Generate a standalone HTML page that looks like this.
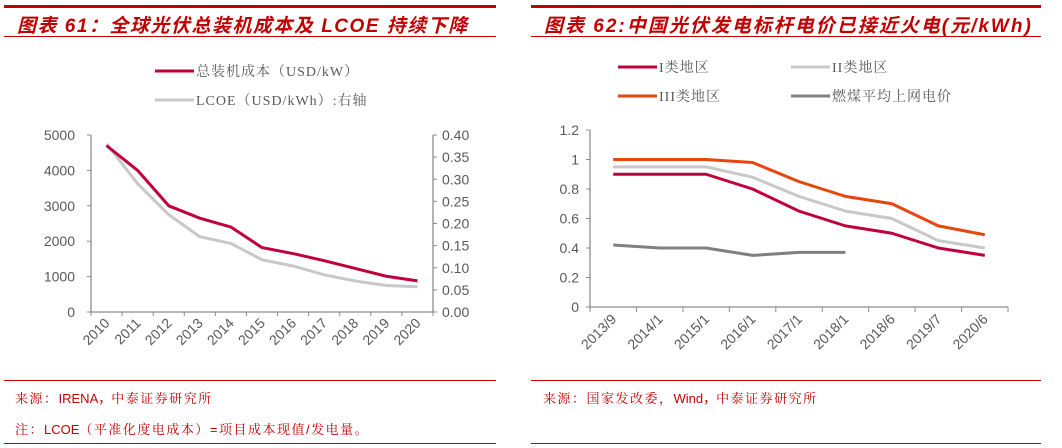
<!DOCTYPE html>
<html><head><meta charset="utf-8">
<style>
body{margin:0;width:1062px;height:448px;background:#fff;position:relative;overflow:hidden;font-family:"Liberation Sans","Noto Sans CJK SC",sans-serif}
.abs{position:absolute}
.title{font-weight:bold;font-style:italic;color:#c00000;font-size:19px;white-space:nowrap;letter-spacing:1.5px}
.src{font-family:"Liberation Sans","Noto Serif CJK SC",serif;color:#c00000;font-size:13px;white-space:nowrap;letter-spacing:1.5px}
</style></head><body>
<div class="abs" style="left:4px;top:5px;width:492px;height:3px;background:#c00000"></div>
<div class="abs title" style="left:17px;top:11px">图表 61：全球光伏总装机成本及 LCOE 持续下降</div>
<div class="abs" style="left:4px;top:36px;width:492px;height:1px;background:#c00000"></div>
<div class="abs" style="left:531px;top:5px;width:510px;height:3px;background:#c00000"></div>
<div class="abs title" style="left:544px;top:11px;letter-spacing:2px">图表 62:中国光伏发电标杆电价已接近火电(元/kWh)</div>
<div class="abs" style="left:531px;top:36px;width:510px;height:1px;background:#c00000"></div>

<div class="abs" style="left:4px;top:380px;width:492px;height:1px;background:#c00000"></div>
<div class="abs src" style="left:15px;top:388px">来源：<span style="font-family:'Liberation Sans';letter-spacing:0">IRENA，</span>中泰证券研究所</div>
<div class="abs src" style="left:15px;top:419px">注：<span style="font-family:'Liberation Sans';letter-spacing:0">LCOE</span>（平准化度电成本）=项目成本现值/发电量。</div>
<div class="abs" style="left:4px;top:443px;width:492px;height:1px;background:#c00000"></div>
<div class="abs" style="left:531px;top:380px;width:510px;height:1px;background:#c00000"></div>
<div class="abs src" style="left:543px;top:388px">来源：国家发改委，<span style="font-family:'Liberation Sans';letter-spacing:0">Wind，</span>中泰证券研究所</div>
<div class="abs" style="left:531px;top:443px;width:510px;height:1px;background:#c00000"></div>

<svg id="c" class="abs" style="left:0;top:0" width="1062" height="448"></svg>
<script>
const years=["2010","2011","2012","2013","2014","2015","2016","2017","2018","2019","2020"];
const costVals=[4700,4000,3000,2650,2400,1820,1650,1450,1230,1010,880];
const lcoeVals=[0.38,0.29,0.22,0.17,0.155,0.118,0.104,0.084,0.07,0.06,0.057];
const leftTicks=[0,1000,2000,3000,4000,5000];
const rightTicks=["0.00","0.05","0.10","0.15","0.20","0.25","0.30","0.35","0.40"];
const dates=["2013/9","2014/1","2015/1","2016/1","2017/1","2018/1","2018/6","2019/7","2020/6"];
const reg1=[0.9,0.9,0.9,0.8,0.65,0.55,0.5,0.4,0.35];
const reg2=[0.95,0.95,0.95,0.88,0.75,0.65,0.6,0.45,0.4];
const reg3=[1,1,1,0.98,0.85,0.75,0.7,0.55,0.49];
const coal=[0.42,0.40,0.40,0.35,0.37,0.37];
const priceTicks=["0","0.2","0.4","0.6","0.8","1","1.2"];

const svg=document.getElementById('c');
const NS='http://www.w3.org/2000/svg';
function mk(tag,attrs,parent){const e=document.createElementNS(NS,tag);for(const k in attrs)e.setAttribute(k,attrs[k]);(parent||svg).appendChild(e);return e;}
const axC='#8c8c8c',txC='#595959';

const L={x0:91,x1:433,y0:312,y1:135};
const lx=i=>L.x0+(i+0.5)*(L.x1-L.x0)/years.length;
const ly=v=>L.y0-(v/5000)*(L.y0-L.y1);
const ry=v=>L.y0-(v/0.4)*(L.y0-L.y1);
let e;
e=mk('line',{x1:L.x0,y1:L.y1,x2:L.x0,y2:L.y0,stroke:axC,'stroke-width':1.3});

e=mk('line',{x1:L.x1,y1:L.y1,x2:L.x1,y2:L.y0,stroke:axC,'stroke-width':1.3});

e=mk('line',{x1:L.x0,y1:L.y0,x2:L.x1,y2:L.y0,stroke:axC,'stroke-width':1.3});

leftTicks.forEach(v=>{const y=ly(v);mk('line',{x1:L.x0-4,y1:y,x2:L.x0,y2:y,stroke:axC});
e=mk('text',{x:L.x0-16,y:y+5,'text-anchor':'end','font-size':14,fill:txC});e.textContent=v;
});
rightTicks.forEach(t=>{const y=ry(parseFloat(t));mk('line',{x1:L.x1,y1:y,x2:L.x1+4,y2:y,stroke:axC});
e=mk('text',{x:L.x1+9,y:y+5,'font-size':14,fill:txC});e.textContent=t;
});
for(let i=0;i<=years.length;i++){const x=L.x0+i*(L.x1-L.x0)/years.length;mk('line',{x1:x,y1:L.y0,x2:x,y2:L.y0+4,stroke:axC});}
years.forEach((t,i)=>{const x=lx(i)+4,y=L.y0+12;e=mk('text',{x:x,y:y,'text-anchor':'end','font-size':14,fill:txC,transform:`rotate(-45 ${x} ${y})`});e.textContent=t;
});
e=mk('polyline',{points:lcoeVals.map((v,i)=>lx(i)+','+ry(v)).join(' '),fill:'none',stroke:'#c8c8c8','stroke-width':3,'stroke-linejoin':'round'});

e=mk('polyline',{points:costVals.map((v,i)=>lx(i)+','+ly(v)).join(' '),fill:'none',stroke:'#c0003c','stroke-width':3,'stroke-linejoin':'round'});

function legend(x,y,col,txt,name){const g=mk('g',{});
mk('line',{x1:x,y1:y,x2:x+39,y2:y,stroke:col,'stroke-width':3},g);
const t=mk('text',{x:x+41,y:y+5,'font-size':14,fill:txC,'letter-spacing':'1','font-family':'"Liberation Serif","Noto Serif CJK SC",serif'},g);t.textContent=txt;}
legend(155,71,'#c0003c','总装机成本（USD/kW）','legend-cost');
legend(155,100,'#c8c8c8','LCOE（USD/kWh）:右轴','legend-lcoe');

const R={x0:590,x1:1008,y0:307,y1:130};
const px=i=>R.x0+(i+0.5)*(R.x1-R.x0)/dates.length;
const py=v=>R.y0-(v/1.2)*(R.y0-R.y1);
e=mk('line',{x1:R.x0,y1:R.y1,x2:R.x0,y2:R.y0,stroke:axC,'stroke-width':1.3});

e=mk('line',{x1:R.x0,y1:R.y0,x2:R.x1,y2:R.y0,stroke:axC,'stroke-width':1.3});

priceTicks.forEach(t=>{const y=py(parseFloat(t));mk('line',{x1:R.x0-4,y1:y,x2:R.x0,y2:y,stroke:axC});
e=mk('text',{x:R.x0-11,y:y+5,'text-anchor':'end','font-size':14,fill:txC});e.textContent=t;
});
for(let i=0;i<=dates.length;i++){const x=R.x0+i*(R.x1-R.x0)/dates.length;mk('line',{x1:x,y1:R.y0,x2:x,y2:R.y0+5,stroke:axC});}
dates.forEach((t,i)=>{const x=px(i)+4,y=R.y0+13;e=mk('text',{x:x,y:y,'text-anchor':'end','font-size':14,fill:txC,transform:`rotate(-45 ${x} ${y})`});e.textContent=t;
});
function series(arr,col,name){const p=mk('polyline',{points:arr.map((v,i)=>px(i)+','+py(v)).join(' '),fill:'none',stroke:col,'stroke-width':3,'stroke-linejoin':'round'});
}
series(coal,'#808080','coal-price-line');
series(reg2,'#c8c8c8','region2-line');
series(reg3,'#e5470f','region3-line');
series(reg1,'#c0003c','region1-line');
legend(618,67,'#c0003c','I类地区','legend-region1');
legend(791,67,'#c8c8c8','II类地区','legend-region2');
legend(618,96,'#e5470f','III类地区','legend-region3');
legend(791,96,'#808080','燃煤平均上网电价','legend-coal');
</script>
</body></html>
